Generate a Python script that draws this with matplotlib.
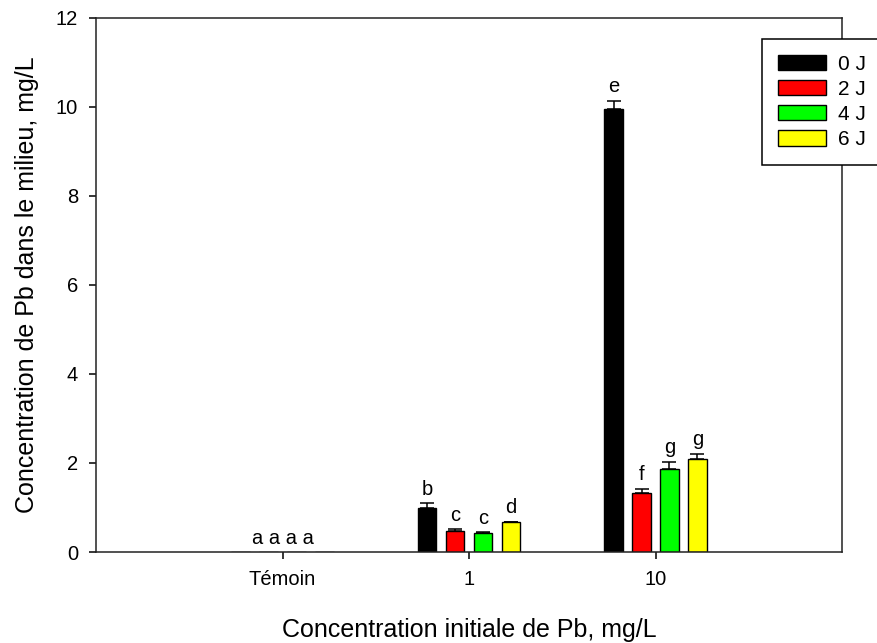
import matplotlib
matplotlib.use("Agg")
import matplotlib.pyplot as plt
import numpy as np

plt.rcParams['font.family'] = ['Liberation Sans', 'DejaVu Sans']

# Pb remaining in the medium, per initial concentration and per day
groups = ['Témoin', '1', '10']
days = ['0 J', '2 J', '4 J', '6 J']
pb_0j = [0.0, 1.00, 9.95]
pb_2j = [0.0, 0.47, 1.33]
pb_4j = [0.0, 0.42, 1.87]
pb_6j = [0.0, 0.67, 2.10]
err_0j = [0.0, 0.09, 0.19]
err_2j = [0.0, 0.04, 0.09]
err_4j = [0.0, 0.03, 0.16]
err_6j = [0.0, 0.01, 0.11]
# significance letters (control group gets one shared label)
letters_0j = ['', 'b', 'e']
letters_2j = ['', 'c', 'f']
letters_4j = ['', 'c', 'g']
letters_6j = ['', 'd', 'g']
control_letters = 'a a a a'

means = [pb_0j, pb_2j, pb_4j, pb_6j]
errs = [err_0j, err_2j, err_4j, err_6j]
letters = [letters_0j, letters_2j, letters_4j, letters_6j]
colors = ['#000000', '#ff0000', '#00ff00', '#ffff00']

fig = plt.figure(figsize=(8.77, 6.43), dpi=100)
ax = fig.add_axes([96 / 877, 1 - 552 / 643, (842 - 96) / 877, (552 - 18) / 643])

x = np.arange(len(groups))
width = 0.1
offsets = [-0.225, -0.075, 0.075, 0.225]

for vals, e, labs, col, off, name in zip(means, errs, letters, colors, offsets, days):
    vals = np.array(vals)
    e = np.array(e)
    ax.bar(x + off, vals, width, color=col, edgecolor='black', linewidth=1.0,
           label=name, zorder=2)
    m = e > 0
    ax.errorbar(x[m] + off, vals[m], yerr=[np.zeros(m.sum()), e[m]], fmt='none',
                ecolor='black', elinewidth=1.1, capsize=5.2, capthick=1.1, zorder=3)
    for xi, v, ei, t in zip(x + off, vals, e, labs):
        if t:
            ax.annotate(t, (xi, v + ei), xytext=(0, 6), textcoords='offset points',
                        ha='center', va='baseline', fontsize=14.5)

ax.annotate(control_letters, (x[0], 0), xytext=(0, 6), textcoords='offset points',
            ha='center', va='baseline', fontsize=14.5)

ax.set_xlim(-1, 3)
ax.set_ylim(0, 12)
ax.set_xticks(x)
ax.set_xticklabels(groups)
ax.set_yticks(np.arange(0, 13, 2))
ax.tick_params(direction='out', length=5, width=1.1, labelsize=14.5, colors='black')
ax.tick_params(axis='x', pad=8)
ax.tick_params(axis='y', pad=8)
for s in ax.spines.values():
    s.set_linewidth(1.1)
    s.set_color('#222222')

ax.set_xlabel('Concentration initiale de Pb, mg/L', fontsize=18, labelpad=21)
ax.set_ylabel('Concentration de Pb dans le milieu, mg/L', fontsize=18, labelpad=12)

leg = ax.legend(loc='upper left', bbox_to_anchor=(762 / 877, 1 - 39 / 643),
                bbox_transform=fig.transFigure, borderaxespad=0, fontsize=15,
                frameon=True, fancybox=False, edgecolor='black', framealpha=1,
                handlelength=2.3, handleheight=0.75, handletextpad=0.6,
                labelspacing=0.3, borderpad=0.75)
leg.get_frame().set_linewidth(1.1)
leg.set_zorder(5)

fig.savefig('out.png', dpi=100)
